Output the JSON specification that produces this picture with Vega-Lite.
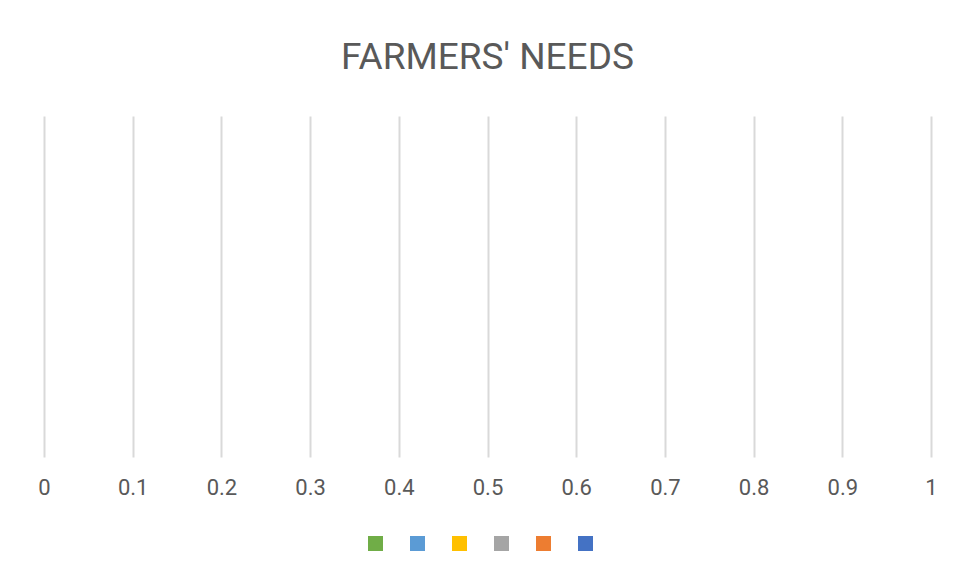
{
  "$schema": "https://vega.github.io/schema/vega-lite/v6.json",
  "autosize": "none",
  "width": 887,
  "height": 341,
  "padding": {"left": 44, "top": 116, "right": 25, "bottom": 120},
  "background": "white",
  "title": {
    "text": "FARMERS' NEEDS",
    "font": "Roboto",
    "fontSize": 37,
    "fontWeight": "normal",
    "color": "#595959",
    "anchor": "middle",
    "offset": 39
  },
  "data": {
    "values": [
      {"series": "S1", "value": 0},
      {"series": "S2", "value": 0},
      {"series": "S3", "value": 0},
      {"series": "S4", "value": 0},
      {"series": "S5", "value": 0},
      {"series": "S6", "value": 0}
    ]
  },
  "mark": {"type": "bar"},
  "encoding": {
    "y": {"field": "series", "type": "nominal", "axis": null},
    "x": {
      "field": "value",
      "type": "quantitative",
      "scale": {"domain": [0, 1], "nice": false},
      "axis": {
        "title": null,
        "values": [0, 0.1, 0.2, 0.3, 0.4, 0.5, 0.6, 0.7, 0.8, 0.9, 1],
        "format": "~g",
        "domain": false,
        "ticks": false,
        "grid": true,
        "gridColor": "#d9d9d9",
        "gridWidth": 2,
        "labelFont": "Roboto",
        "labelFontSize": 22,
        "labelColor": "#595959",
        "labelPadding": 20,
        "labelFlush": false,
        "labelOverlap": false
      }
    },
    "color": {
      "field": "series",
      "type": "nominal",
      "scale": {
        "domain": ["S1", "S2", "S3", "S4", "S5", "S6"],
        "range": ["#70ad47", "#5b9bd5", "#ffc000", "#a5a5a5", "#ed7d31", "#4472c4"]
      },
      "legend": {
        "orient": "bottom",
        "direction": "horizontal",
        "title": null,
        "labelExpr": "''",
        "symbolType": "square",
        "symbolSize": 225,
        "symbolStrokeWidth": 0,
        "symbolOpacity": 1,
        "labelOffset": 14,
        "columnPadding": 13,
        "offset": 38
      }
    }
  },
  "config": {
    "view": {"stroke": null},
    "legend": {"layout": {"bottom": {"anchor": "middle"}}}
  }
}
